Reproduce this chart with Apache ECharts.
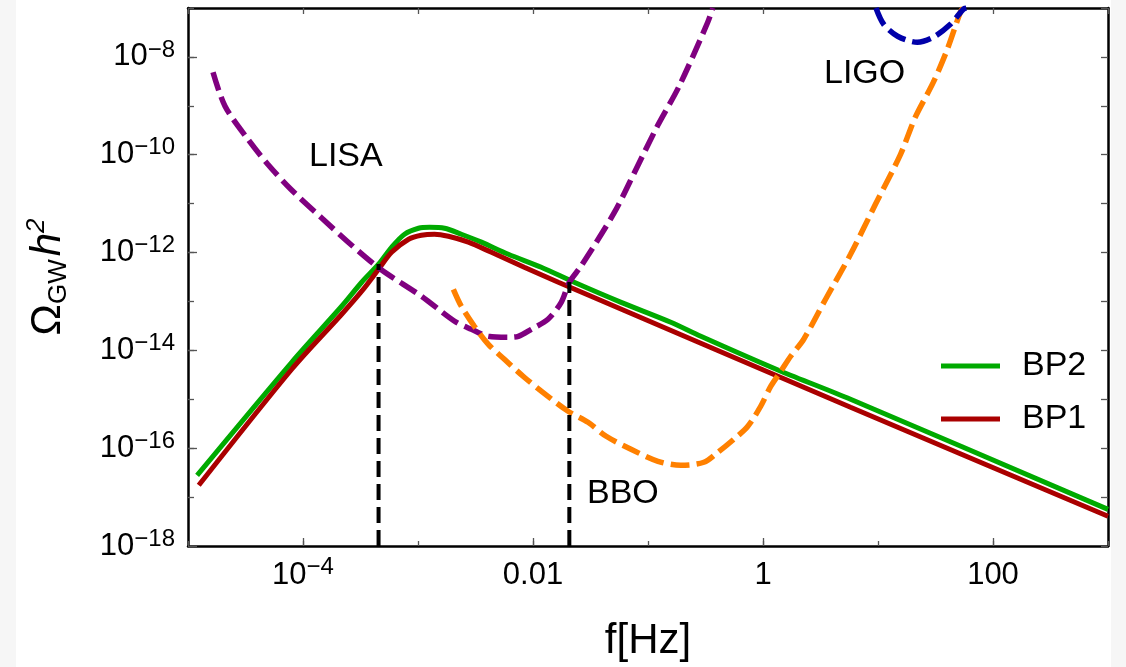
<!DOCTYPE html>
<html>
<head>
<meta charset="utf-8">
<script src="https://cdn.jsdelivr.net/npm/echarts@6/dist/echarts.min.js"></script>
<style>
  html, body { margin: 0; padding: 0; background: #f6f6f6; }
  #chart { position: absolute; left: 16px; top: 0; width: 1095px; height: 667px; background: #fff; }
</style>
</head>
<body>
<div id="chart"></div>
<script>
// Axis ranges and labelled decades
const freqRange = [1e-5, 1e3];
const omegaRange = [1e-18, 1e-7];
const freqLabelTicks = [1e-4, 1e-2, 1, 1e2];
const freqTickText = ['10^\u22124', '0.01', '1', '100'];
const omegaLabelTicks = [1e-18, 1e-16, 1e-14, 1e-12, 1e-10, 1e-8];
const omegaTickText = ['10^\u221218', '10^\u221216', '10^\u221214', '10^\u221212', '10^\u221210', '10^\u22128'];

// Gravitational-wave spectra [f (Hz), Omega_GW h^2]
const bp2 = [
  [1.20e-5, 2.79e-17], [7.98e-5, 5.71e-15], [2.17e-4, 7.98e-14], [3.24e-4, 2.47e-13],
  [4.54e-4, 5.77e-13], [5.89e-4, 1.28e-12], [7.64e-4, 2.37e-12], [1.01e-3, 3.14e-12],
  [1.26e-3, 3.29e-12], [1.70e-3, 3.14e-12], [2.38e-3, 2.37e-12], [3.56e-3, 1.63e-12],
  [6.10e-3, 9.2e-13], [1.18e-2, 5.0e-13], [2.28e-2, 2.47e-13], [5.84e-2, 9.6e-14],
  [0.158, 3.76e-14], [0.288, 1.94e-14], [1.43, 3.74e-15], [5.77, 1.0e-15], [1000, 5.6e-18]
];
const bp1 = [
  [1.24e-5, 1.74e-17], [7.98e-5, 4.11e-15], [2.17e-4, 5.47e-14], [3.24e-4, 1.62e-13],
  [4.54e-4, 4.55e-13], [5.89e-4, 1.01e-12], [8.28e-4, 1.87e-12], [1.07e-3, 2.26e-12],
  [1.39e-3, 2.37e-12], [1.84e-3, 2.15e-12], [2.74e-3, 1.63e-12], [4.35e-3, 1.01e-12],
  [8.39e-3, 5.0e-13], [1.66e-2, 2.47e-13], [3.20e-2, 1.28e-13], [0.288, 1.40e-14],
  [5.77, 6.86e-16], [1000, 4.05e-18]
];

// Detector sensitivity curves [f (Hz), Omega_GW h^2]
const lisa = [
  [1.65e-5, 4.87e-9], [2.10e-5, 9.8e-10], [3.32e-5, 2.07e-10], [4.94e-5, 6.4e-11],
  [7.84e-5, 1.97e-11], [1.43e-4, 5.27e-12], [2.59e-4, 1.48e-12], [4.73e-4, 4.55e-13],
  [1.07e-3, 1.28e-13], [2.08e-3, 3.94e-14], [2.91e-3, 2.70e-14], [4.09e-3, 1.94e-14],
  [6.10e-3, 1.85e-14], [7.45e-3, 1.94e-14], [9.66e-3, 2.70e-14], [1.35e-2, 4.33e-14],
  [1.76e-2, 9.6e-14], [2.07e-2, 2.47e-13], [2.62e-2, 5.3e-13], [5.10e-2, 6.6e-12],
  [7.87e-2, 5.05e-11], [0.121, 3.9e-10], [0.187, 2.55e-9], [0.330, 5.05e-8], [0.366, 1e-7]
];
const bbo = [
  [2.03e-3, 1.77e-13], [2.38e-3, 7.98e-14], [3.09e-3, 3.11e-14], [4.09e-3, 1.33e-14],
  [5.64e-3, 6.58e-15], [8.39e-3, 2.82e-15], [1.35e-2, 1.15e-15], [2.02e-2, 5.69e-16],
  [3.01e-2, 3.39e-16], [4.33e-2, 1.75e-16], [7.11e-2, 9.5e-17], [0.122, 5.4e-17],
  [0.193, 4.47e-17], [0.306, 5.15e-17], [0.405, 8.24e-17], [0.557, 1.52e-16],
  [0.738, 2.81e-16], [0.955, 7.2e-16], [1.17, 1.85e-15], [1.43, 3.74e-15],
  [1.74, 7.57e-15], [2.26, 1.69e-14], [3.50, 1.11e-13], [5.77, 9.2e-13],
  [9.5, 9.7e-12], [15.7, 1.02e-10], [21.1, 5.85e-10], [30.3, 3.04e-9],
  [40.1, 1.44e-8], [52.0, 8.2e-8], [55.0, 1e-7]
];
const ligo = [
  [9.6, 1e-7], [11.2, 4.66e-8], [14.8, 2.65e-8], [22.0, 2.0e-8],
  [30.3, 2.53e-8], [42.6, 4.66e-8], [55.2, 9.45e-8], [58.6, 1e-7]
];

// Frequencies where the BP curves cross the LISA sensitivity
const crossLow = [[4.54e-4, 1e-18], [4.54e-4, 5.8e-13]];
const crossHigh = [[2.07e-2, 1e-18], [2.07e-2, 2.5e-13]];

const FONT = '"Liberation Sans", Arial, Helvetica, sans-serif';

function richTick(text) {
  const p = text.split('^');
  return p.length > 1 ? '{b|' + p[0] + '}{s|' + p[1] + '}' : '{b|' + text + '}';
}
function tickFormatter(ticks, texts) {
  return function (v) {
    const i = ticks.findIndex(t => Math.abs(Math.log10(t) - Math.log10(v)) < 1e-6);
    return i < 0 ? '' : richTick(texts[i]);
  };
}

const tickLine = { color: '#555', width: 1.3 };
const frameLine = { color: '#000', width: 2.5 };

function baseAxis(range, pos) {
  return {
    type: 'log', logBase: 10, min: range[0], max: range[1], position: pos,
    splitLine: { show: false }, axisPointer: { show: false }
  };
}

const xAxes = [
  Object.assign(baseAxis(freqRange, 'bottom'), {
    interval: 1,
    axisLine: { show: true, onZero: false, lineStyle: frameLine },
    axisTick: { show: true, inside: true, length: 5, lineStyle: tickLine },
    axisLabel: { show: false },
    name: 'f[Hz]', nameLocation: 'middle', nameGap: 74,
    nameTextStyle: { fontSize: 42, fontFamily: FONT, color: '#000', lineHeight: 42 }
  }),
  Object.assign(baseAxis(freqRange, 'bottom'), {
    axisLine: { show: false },
    axisTick: { show: true, inside: true, length: 8, lineStyle: tickLine, customValues: freqLabelTicks },
    axisLabel: {
      show: true, margin: 9, customValues: freqLabelTicks,
      formatter: tickFormatter(freqLabelTicks, freqTickText),
      rich: {
        b: { fontSize: 31, lineHeight: 40, fontFamily: FONT, color: '#000' },
        s: { fontSize: 24, verticalAlign: 'top', fontFamily: FONT, color: '#000' }
      }
    }
  }),
  Object.assign(baseAxis(freqRange, 'top'), {
    interval: 1,
    axisLine: { show: true, onZero: false, lineStyle: frameLine },
    axisTick: { show: true, inside: true, length: 6, lineStyle: tickLine },
    axisLabel: { show: false }
  })
];

const yAxes = [
  Object.assign(baseAxis(omegaRange, 'left'), {
    interval: 1,
    axisLine: { show: true, onZero: false, lineStyle: frameLine },
    axisTick: { show: true, inside: true, length: 6, lineStyle: tickLine },
    axisLabel: { show: false },
    name: '{o|\u03A9}{sub|GW}{h|h}{sup|2}', nameLocation: 'middle', nameRotate: 90, nameGap: 116,
    nameTextStyle: {
      color: '#000',
      rich: {
        o: { fontSize: 42, lineHeight: 48, fontFamily: FONT, color: '#000' },
        sub: { fontSize: 26, verticalAlign: 'bottom', fontFamily: FONT, color: '#000' },
        h: { fontSize: 42, lineHeight: 48, fontStyle: 'italic', fontFamily: FONT, color: '#000', padding: [0, 0, 0, 3] },
        sup: { fontSize: 26, verticalAlign: 'top', fontStyle: 'italic', fontFamily: FONT, color: '#000' }
      }
    }
  }),
  Object.assign(baseAxis(omegaRange, 'left'), {
    axisLine: { show: false },
    axisTick: { show: true, inside: true, length: 9, lineStyle: tickLine, customValues: omegaLabelTicks },
    axisLabel: {
      show: true, margin: 13, customValues: omegaLabelTicks,
      formatter: tickFormatter(omegaLabelTicks, omegaTickText),
      rich: {
        b: { fontSize: 31, lineHeight: 38, fontFamily: FONT, color: '#000' },
        s: { fontSize: 24, verticalAlign: 'top', fontFamily: FONT, color: '#000' }
      }
    }
  }),
  Object.assign(baseAxis(omegaRange, 'right'), {
    interval: 1,
    axisLine: { show: true, onZero: false, lineStyle: frameLine },
    axisTick: { show: true, inside: true, length: 7, lineStyle: tickLine },
    axisLabel: { show: false }
  })
];

function curve(name, data, color, width, dash, z) {
  return {
    type: 'line', name: name, data: data, xAxisIndex: 0, yAxisIndex: 0,
    symbol: 'none', showSymbol: false, smooth: 0.3, z: z,
    lineStyle: { color: color, width: width, type: dash || 'solid', cap: 'butt' },
    itemStyle: { color: color }, emphasis: { disabled: true }
  };
}

const chart = echarts.init(document.getElementById('chart'), null, { renderer: 'canvas' });
chart.setOption({
  animation: false,
  backgroundColor: '#fff',
  grid: { left: 170, right: 3, top: 8, bottom: 120, containLabel: false },
  xAxis: xAxes,
  yAxis: yAxes,
  legend: {
    data: [{ name: 'BP2', icon: 'rect' }, { name: 'BP1', icon: 'rect' }],
    orient: 'vertical', left: 925, top: 346, padding: 0,
    itemWidth: 59, itemHeight: 5, itemGap: 13,
    textStyle: { fontSize: 34, lineHeight: 40, fontFamily: FONT, color: '#000', padding: [0, 0, 0, 17] },
    selectedMode: false
  },
  graphic: [
    { type: 'text', left: 293, top: 140, style: { text: 'LISA', fontSize: 34, fontFamily: FONT, fill: '#000' } },
    { type: 'text', left: 808, top: 57, style: { text: 'LIGO', fontSize: 34, fontFamily: FONT, fill: '#000' } },
    { type: 'text', left: 571, top: 477, style: { text: 'BBO', fontSize: 34, fontFamily: FONT, fill: '#000' } }
  ],
  series: [
    curve('BP2', bp2, '#00aa00', 5, null, 3),
    curve('BP1', bp1, '#aa0000', 5, null, 3),
    curve('LISA', lisa, '#800080', 5.5, [19, 7], 4),
    curve('BBO', bbo, '#ff8000', 5.5, [19, 7], 4),
    curve('LIGO', ligo, '#0000aa', 5.5, [19, 7], 4),
    Object.assign(curve('f1', crossLow, '#000', 4, [16, 7], 5), { smooth: false }),
    Object.assign(curve('f2', crossHigh, '#000', 4, [16, 7], 5), { smooth: false })
  ]
});
</script>
</body>
</html>
